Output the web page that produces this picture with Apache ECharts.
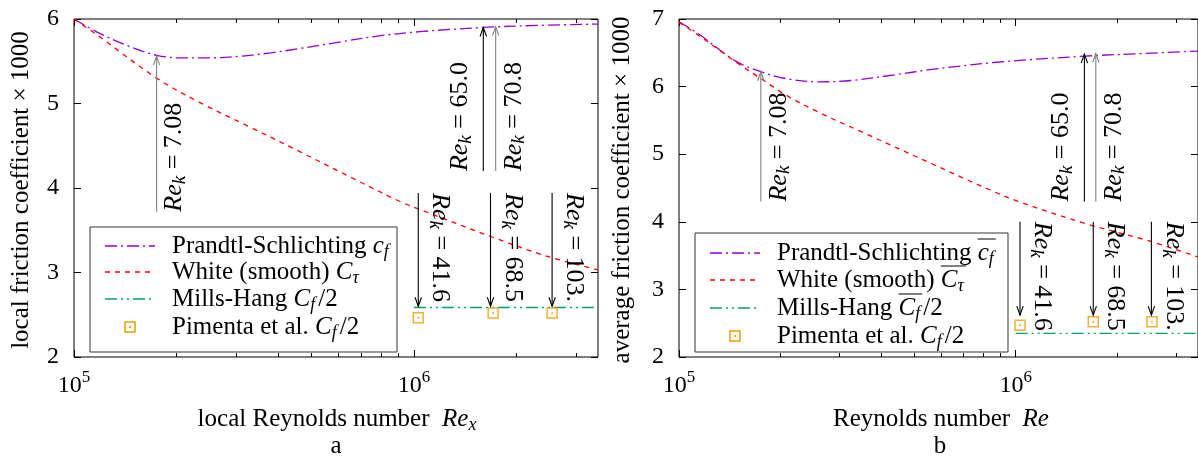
<!DOCTYPE html>
<html><head><meta charset="utf-8">
<script src="https://cdn.jsdelivr.net/npm/echarts@6/dist/echarts.min.js"></script>
<style>html,body{margin:0;padding:0;background:#fff}#c{width:1198px;height:457px}</style>
</head><body><div id="c"></div>
<script>
// ---------------- DATA ----------------
// Panel a: local friction coefficient x 1000 vs local Reynolds number Re_x
const reA_ps = [1e5, 1.19e5, 1.49e5, 1.75e5, 2.05e5, 2.5e5, 3.1e5, 3.8e5, 4.6e5, 6.1e5, 7.9e5, 1.04e6, 1.6e6, 2.35e6, 3.48e6];
const cfA_ps = [6.00, 5.83, 5.66, 5.57, 5.54, 5.54, 5.56, 5.60, 5.65, 5.73, 5.80, 5.85, 5.90, 5.925, 5.94];
const reA_white = [1e5, 1.19e5, 1.75e5, 2.35e5, 3.3e5, 4.62e5, 6.5e5, 9.1e5, 1.02e6, 1.7e6, 2.43e6, 3.48e6];
const cfA_white = [6.00, 5.79, 5.30, 5.01, 4.72, 4.43, 4.13, 3.84, 3.76, 3.42, 3.20, 3.03];
const reA_mills = [1.0e6, 1.5e6, 2.2e6, 3.48e6];
const cfA_mills = [2.585, 2.585, 2.585, 2.585];
const reA_pim = [1.03e6, 1.71e6, 2.55e6];
const cfA_pim = [2.465, 2.52, 2.52];
// arrows: Re position, tail value, head value, label
const arrA_re   = [1.75e5, 1.6e6, 1.74e6, 1.03e6, 1.68e6, 2.55e6];
const arrA_from = [3.72, 4.20, 4.20, 3.94, 3.94, 3.94];
const arrA_to   = [5.56, 5.90, 5.91, 2.60, 2.60, 2.60];
const arrA_lab  = ['7.08', '65.0', '70.8', '41.6', '68.5', '103.'];

// Panel b: average friction coefficient x 1000 vs Reynolds number Re
const reB_ps = [1e5, 1.15e5, 1.47e5, 1.75e5, 2.07e5, 2.59e5, 3.24e5, 4.45e5, 5.57e5, 8.8e5, 1.6e6, 2.4e6, 3.48e6];
const cfB_ps = [6.96, 6.77, 6.38, 6.22, 6.12, 6.07, 6.09, 6.18, 6.25, 6.36, 6.45, 6.49, 6.525];
const reB_white = [1e5, 1.15e5, 1.47e5, 1.75e5, 2.07e5, 2.6e5, 3.56e5, 5.57e5, 8.4e5, 1.02e6, 1.62e6, 2.48e6, 3.48e6];
const cfB_white = [6.95, 6.75, 6.37, 6.12, 5.88, 5.62, 5.31, 4.87, 4.47, 4.30, 3.97, 3.72, 3.48];
const reB_mills = [1.0e6, 1.5e6, 2.2e6, 3.48e6];
const cfB_mills = [2.35, 2.35, 2.35, 2.35];
const reB_pim = [1.03e6, 1.70e6, 2.54e6];
const cfB_pim = [2.47, 2.52, 2.52];
const arrB_re   = [1.75e5, 1.6e6, 1.73e6, 1.03e6, 1.70e6, 2.53e6];
const arrB_from = [4.30, 4.30, 4.30, 4.00, 4.00, 4.00];
const arrB_to   = [6.22, 6.48, 6.49, 2.62, 2.62, 2.62];
const arrB_lab  = ['7.08', '65.0', '70.8', '41.6', '68.5', '103.'];

// axes
const xMin = 1e5, xMax = 3.48e6;
const xMajor = [1e5, 1e6];
const xMinor = [2e5, 3e5, 4e5, 5e5, 6e5, 7e5, 8e5, 9e5, 2e6, 3e6];
const yA = {min: 2, max: 6}, yB = {min: 2, max: 7};

// ---------------- STYLE ----------------
const FF = 'Liberation Serif';
const FS = 25, FSS = 18, FA = 26, FAS = 19;
const C_PS = '#9400D3', C_W = '#FF0000', C_MH = '#009E73', C_P = '#E69F00';
const DASH_PS = [12, 4, 2, 4], DASH_W = [5, 5], DASH_MH = [12, 4, 2, 4, 2, 4];
const grayArrows = ['7.08', '70.8'];
const leftLabels = ['65.0'];

const zip = (a, b) => a.map((v, i) => [v, b[i]]);

function mkRich(fs, fss) {
  return {
    n: {fontFamily: FF, fontSize: fs, lineHeight: 30, fill: '#000', color: '#000'},
    i: {fontFamily: FF, fontSize: fs, fontStyle: 'italic', lineHeight: 30, fill: '#000', color: '#000'},
    s: {fontFamily: FF, fontSize: fss, fontStyle: 'italic', lineHeight: 12, verticalAlign: 'bottom', fill: '#000', color: '#000'},
    p: {fontFamily: FF, fontSize: fs, lineHeight: 30, padding: [0, 0, 0, 3], fill: '#000', color: '#000'}
  };
}
const richZ = mkRich(FS, FSS);
const richA = mkRich(FA, FAS);

const cv = document.createElement('canvas').getContext('2d');
function measure(t, size, italic) {
  cv.font = (italic ? 'italic ' : '') + size + 'px "' + FF + '"';
  return cv.measureText(t).width;
}

function xAxes(g) {
  const base = {type: 'log', logBase: 10, gridIndex: g, min: xMin, max: xMax,
    splitLine: {show: false}, axisLine: {show: false}, minorTick: {show: false}};
  const tk = (len, vals) => ({show: true, inside: true, length: len, customValues: vals, lineStyle: {color: '#000', width: 1}});
  return [
    Object.assign({}, base, {position: 'bottom', axisTick: tk(7, xMajor),
      axisLabel: {show: true, customValues: xMajor, margin: 12,
        formatter: v => '{b|10}{p|' + Math.round(Math.log10(v)) + '}',
        rich: {
          b: {fontFamily: FF, fontSize: 24, lineHeight: 34, color: '#000'},
          p: {fontFamily: FF, fontSize: 17, lineHeight: 10, verticalAlign: 'top', color: '#000'}
        }}}),
    Object.assign({}, base, {position: 'bottom', axisTick: tk(4, xMinor), axisLabel: {show: false}}),
    Object.assign({}, base, {position: 'top', axisTick: tk(7, xMajor), axisLabel: {show: false}}),
    Object.assign({}, base, {position: 'top', axisTick: tk(4, xMinor), axisLabel: {show: false}})
  ];
}
function yAxes(g, r) {
  const base = {type: 'value', gridIndex: g, min: r.min, max: r.max, interval: 1,
    splitLine: {show: false}, axisLine: {show: false},
    axisTick: {show: true, inside: true, length: 7, lineStyle: {color: '#000'}}};
  return [
    Object.assign({}, base, {position: 'left', axisLabel: {margin: 15, fontFamily: FF, fontSize: 24, color: '#000'}}),
    Object.assign({}, base, {position: 'right', axisLabel: {show: false}})
  ];
}

function arrowRenderer(labels) {
  return function (params, api) {
    const re = api.value(0), y0 = api.value(1), y1 = api.value(2);
    const p0 = api.coord([re, y0]), p1 = api.coord([re, y1]);
    const up = p1[1] < p0[1];
    const lab = labels[params.dataIndex];
    const col = grayArrows.indexOf(lab) >= 0 ? '#808080' : '#000';
    const d = up ? 1 : -1, hl = 9, hw = 3.2;
    const off = up ? (leftLabels.indexOf(lab) >= 0 ? -23 : 18) : 22;
    return {type: 'group', children: [
      {type: 'line', shape: {x1: p0[0], y1: p0[1], x2: p1[0], y2: p1[1]}, style: {stroke: col, lineWidth: 1.1}},
      {type: 'polyline', shape: {points: [[p1[0] - hw, p1[1] + d * hl], [p1[0], p1[1]], [p1[0] + hw, p1[1] + d * hl]]},
        style: {stroke: col, fill: null, lineWidth: 1.1}},
      {type: 'text', x: p0[0] + off, y: p0[1], rotation: up ? Math.PI / 2 : -Math.PI / 2,
        style: {text: '{i|Re}{s|k}{n| = ' + lab + '}', rich: richA, align: 'left', verticalAlign: 'middle',
          fontFamily: FF, fontSize: FA, fill: '#000'}}
    ]};
  };
}

function panelSeries(xi, yi, d) {
  return [
    {type: 'line', name: 'ps', xAxisIndex: xi, yAxisIndex: yi, data: d.ps, smooth: 0.35, showSymbol: false, symbol: 'none',
      lineStyle: {color: C_PS, width: 1.3, type: DASH_PS}, z: 3},
    {type: 'line', name: 'white', xAxisIndex: xi, yAxisIndex: yi, data: d.w, smooth: 0.35, showSymbol: false, symbol: 'none',
      lineStyle: {color: C_W, width: 1.3, type: DASH_W}, z: 3},
    {type: 'line', name: 'mills', xAxisIndex: xi, yAxisIndex: yi, data: d.mh, showSymbol: false, symbol: 'none',
      lineStyle: {color: C_MH, width: 1.4, type: DASH_MH}, z: 3},
    {type: 'scatter', name: 'pim', xAxisIndex: xi, yAxisIndex: yi, data: d.pim, symbol: 'rect', symbolSize: 10,
      itemStyle: {color: '#fff', borderColor: C_P, borderWidth: 1.5}, z: 4},
    {type: 'scatter', name: 'pimdot', xAxisIndex: xi, yAxisIndex: yi, data: d.pim, symbol: 'rect', symbolSize: 1.8,
      itemStyle: {color: C_P}, z: 5},
    {type: 'custom', xAxisIndex: xi, yAxisIndex: yi, data: d.arr, renderItem: arrowRenderer(d.lab),
      encode: {x: 0, y: [1, 2]}, clip: false, z: 6}
  ];
}

// legend (drawn as graphic)
const legendRows = [
  {pre: 'Prandtl-Schlichting ', sym: 'c', sub: 'f', post: '', kind: 'line', color: C_PS, dash: DASH_PS},
  {pre: 'White (smooth) ', sym: 'C', sub: '\u03C4', post: '', kind: 'line', color: C_W, dash: DASH_W},
  {pre: 'Mills-Hang ', sym: 'C', sub: 'f', post: '/2', kind: 'line', color: C_MH, dash: DASH_MH},
  {pre: 'Pimenta et al. ', sym: 'C', sub: 'f', post: '/2', kind: 'sq', color: C_P}
];
function legend(box, sx0, sx1, tx, ys, overRows) {
  const els = [{type: 'rect', shape: {x: box[0], y: box[1], width: box[2] - box[0], height: box[3] - box[1]},
    style: {fill: '#fff', stroke: '#333', lineWidth: 1}, z: 100}];
  legendRows.forEach((r, k) => {
    const y = ys[k];
    if (r.kind === 'line') {
      els.push({type: 'line', shape: {x1: sx0, y1: y, x2: sx1, y2: y}, style: {stroke: r.color, lineWidth: 1.3, lineDash: r.dash}, z: 101});
    } else {
      const cx = (sx0 + sx1) / 2;
      els.push({type: 'rect', shape: {x: cx - 5, y: y - 5, width: 10, height: 10}, style: {fill: '#fff', stroke: r.color, lineWidth: 1.5}, z: 101});
      els.push({type: 'rect', shape: {x: cx - 0.9, y: y - 0.9, width: 1.8, height: 1.8}, style: {fill: r.color}, z: 102});
    }
    const t = '{n|' + r.pre + '}{i|' + r.sym + '}{s|' + r.sub + '}' + (r.post ? '{p|' + r.post + '}' : '');
    els.push({type: 'text', x: tx, y: y, style: {text: t, rich: richZ, align: 'left', verticalAlign: 'middle', fontFamily: FF, fontSize: FS, fill: '#000'}, z: 101});
    if (overRows.indexOf(k) >= 0) {
      const ox = tx + measure(r.pre, FS, false);
      const w = measure(r.sym, FS, true) + measure(r.sub, FSS, true) + 2;
      els.push({type: 'line', shape: {x1: ox, y1: y - 14, x2: ox + w, y2: y - 14}, style: {stroke: '#000', lineWidth: 1}, z: 101});
    }
  });
  return els;
}

function txt(x, y, s, rot) {
  return {type: 'text', x: x, y: y, rotation: rot || 0,
    style: {text: s, rich: richZ, align: 'center', verticalAlign: 'middle', fontFamily: FF, fontSize: FS, fill: '#000'}, z: 50};
}

const dA = {ps: zip(reA_ps, cfA_ps), w: zip(reA_white, cfA_white), mh: zip(reA_mills, cfA_mills), pim: zip(reA_pim, cfA_pim),
  arr: arrA_re.map((v, i) => [v, arrA_from[i], arrA_to[i]]), lab: arrA_lab};
const dB = {ps: zip(reB_ps, cfB_ps), w: zip(reB_white, cfB_white), mh: zip(reB_mills, cfB_mills), pim: zip(reB_pim, cfB_pim),
  arr: arrB_re.map((v, i) => [v, arrB_from[i], arrB_to[i]]), lab: arrB_lab};

const option = {
  animation: false,
  backgroundColor: '#fff',
  textStyle: {fontFamily: FF},
  grid: [
    {left: 74, top: 19, width: 524, height: 338, show: true, borderColor: '#000', borderWidth: 1, backgroundColor: 'transparent'},
    {left: 679, top: 19, width: 524, height: 338, show: true, borderColor: '#000', borderWidth: 1, backgroundColor: 'transparent'}
  ],
  xAxis: xAxes(0).concat(xAxes(1)),
  yAxis: yAxes(0, yA).concat(yAxes(1, yB)),
  series: panelSeries(0, 0, dA).concat(panelSeries(4, 2, dB)),
  graphic: [].concat(
    legend([90, 227, 397, 352], 105, 155, 172, [246, 272, 299, 327], []),
    legend([695, 233, 1008, 352], 710, 760, 777, [253, 280, 308, 336], [0, 1, 2]),
    [
      txt(21, 190, '{n|local friction coefficient \u00D7 1000}', Math.PI / 2),
      txt(622, 190, '{n|average friction coefficient \u00D7 1000}', Math.PI / 2),
      txt(337, 419, '{n|local Reynolds number  }{i|Re}{s|x}'),
      txt(941, 419, '{n|Reynolds number  }{i|Re}'),
      txt(336, 446, '{n|a}'),
      txt(940, 446, '{n|b}')
    ]
  )
};

const chart = echarts.init(document.getElementById('c'), null, {renderer: 'canvas'});
chart.setOption(option);
</script>
</body></html>
